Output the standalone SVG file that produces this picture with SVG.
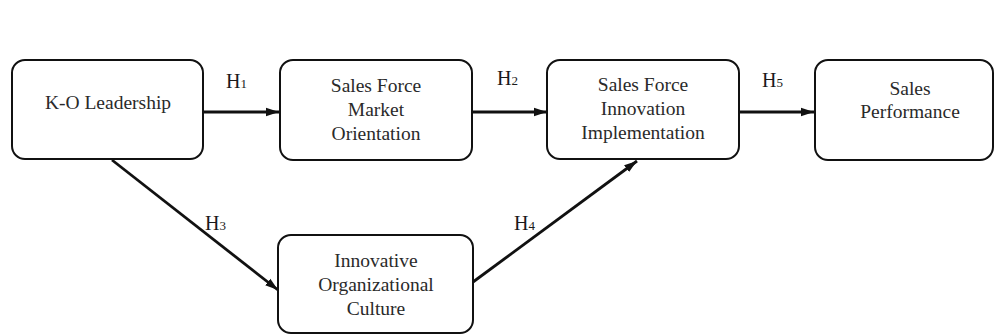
<svg xmlns="http://www.w3.org/2000/svg" width="995" height="335" viewBox="0 0 995 335">
<defs>
<style>
.box{fill:#fff;stroke:#111;stroke-width:2}
.t{font-family:'Liberation Serif','Times New Roman',serif;font-size:19.5px;fill:#2a2a2a;text-anchor:middle}
.h{font-family:'Liberation Serif','Times New Roman',serif;font-size:20px;fill:#1a1a1a}
.sub{font-size:13px}
.c{stroke:#111;stroke-width:2.8;fill:none;marker-end:url(#ah)}
</style>
<marker id="ah" markerUnits="userSpaceOnUse" markerWidth="14" markerHeight="10" refX="13" refY="5" orient="auto">
<path d="M0,0.8 L13,5 L0,9.2 Z" fill="#111"/>
</marker>
</defs>
<rect width="995" height="335" fill="#fff"/>
<g id="connectors">
<line class="c" x1="203" y1="112" x2="279" y2="112"/>
<line class="c" x1="472" y1="112" x2="547" y2="112"/>
<line class="c" x1="739" y1="112" x2="814" y2="112"/>
<line class="c" x1="112" y1="160" x2="278" y2="290"/>
<line class="c" x1="473" y1="282" x2="637" y2="161"/>
<text class="h" x="226" y="88">H<tspan class="sub">1</tspan></text>
<text class="h" x="497" y="85">H<tspan class="sub">2</tspan></text>
<text class="h" x="762" y="87">H<tspan class="sub">5</tspan></text>
<text class="h" x="205" y="230">H<tspan class="sub">3</tspan></text>
<text class="h" x="514" y="230">H<tspan class="sub">4</tspan></text>
</g>
<g id="ko-leadership">
<rect class="box" x="12" y="60" width="191" height="99" rx="13"/>
<text class="t" x="108" y="109">K-O Leadership</text>
</g>
<g id="sf-market-orientation">
<rect class="box" x="280" y="60" width="192" height="100" rx="13"/>
<text class="t" x="376" y="92">Sales Force</text>
<text class="t" x="376" y="116">Market</text>
<text class="t" x="376" y="140">Orientation</text>
</g>
<g id="sf-innovation-implementation">
<rect class="box" x="547" y="60" width="192" height="99" rx="13"/>
<text class="t" x="643" y="91">Sales Force</text>
<text class="t" x="643" y="115">Innovation</text>
<text class="t" x="643" y="139">Implementation</text>
</g>
<g id="sales-performance">
<rect class="box" x="815" y="60" width="178" height="100" rx="13"/>
<text class="t" x="910" y="95">Sales</text>
<text class="t" x="910" y="118">Performance</text>
</g>
<g id="innovative-culture">
<rect class="box" x="278" y="235" width="195" height="98" rx="13"/>
<text class="t" x="376" y="267">Innovative</text>
<text class="t" x="376" y="291">Organizational</text>
<text class="t" x="376" y="315">Culture</text>
</g>
</svg>
